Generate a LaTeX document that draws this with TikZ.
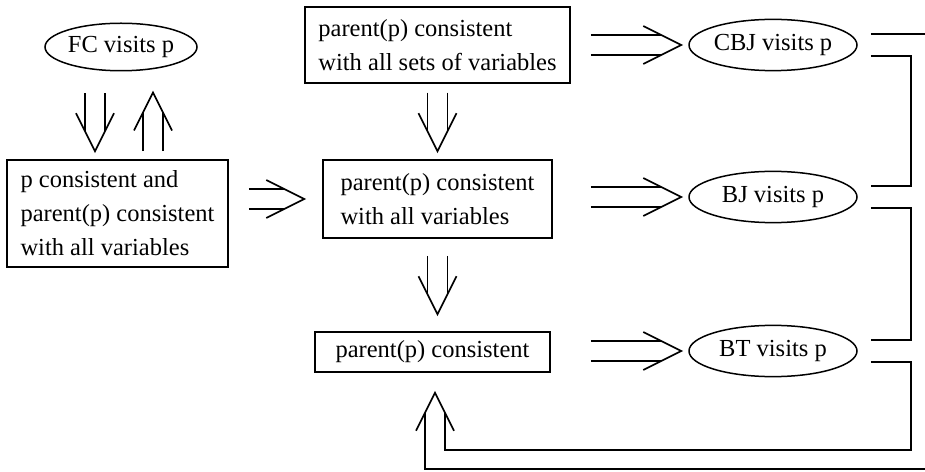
\documentclass[tikz,border=0pt]{standalone}
\usepackage{fontspec}
\setmainfont{Liberation Serif}
\usetikzlibrary{calc,shapes.geometric}
% double-line implication arrow with an open V head: #1 start, #2 tip
\newcommand\dimp[2]{%
  \coordinate (dS) at (#1);
  \coordinate (dT) at (#2);
  \coordinate (dE) at ($(dT)!8pt!(dS)$);
  \coordinate (dB) at ($(dT)!15.2pt!(dS)$);
  \draw[conn] ($(dS)!4pt!90:(dT)$) -- ($(dE)!4pt!90:(dT)$);
  \draw[conn] ($(dS)!4pt!-90:(dT)$) -- ($(dE)!4pt!-90:(dT)$);
  \draw[conn] ($(dB)!7.6pt!90:(dT)$) -- (dT) -- ($(dB)!7.6pt!-90:(dT)$);
}
\begin{document}
\begin{tikzpicture}[x=0.4pt,y=-0.4pt,
  every node/.style={font=\fontsize{9.8}{13.6}\selectfont},
  box/.style={draw, line width=0.6pt, align=left, inner sep=0pt},
  oval/.style={draw, ellipse, line width=0.6pt, inner sep=0pt},
  conn/.style={line width=0.7pt}]
\useasboundingbox (0,0) rectangle (925,472);

% nodes
\node[oval, minimum width=60.8pt, minimum height=19pt] (fc) at (121,47) {FC visits p};
\node[box, minimum width=88.4pt, minimum height=42.8pt] (lbox) at (117.5,213.5)
  {p consistent and\\ parent(p) consistent\\ with all variables};
\node[box, minimum width=106pt, minimum height=30.4pt] (tbox) at (437.5,45)
  {parent(p) consistent\\ with all sets of variables};
\node[box, minimum width=91.6pt, minimum height=31.2pt] (mbox) at (437.5,199)
  {parent(p) consistent\\ with all variables};
\node[box, minimum width=94pt, minimum height=16pt] (bbox) at (432.5,352)
  {parent(p) consistent};
\node[oval, minimum width=67.2pt, minimum height=20.5pt] (cbj) at (773,45) {CBJ visits p};
\node[oval, minimum width=67.2pt, minimum height=20.5pt] (bj) at (773,197) {BJ visits p};
\node[oval, minimum width=67.2pt, minimum height=20.5pt] (bt) at (773,351) {BT visits p};

% implication arrows
\dimp{$(fc.south)+(-26,22)$}{$(lbox.north)+(-22.5,-8)$}
\dimp{$(lbox.north)+(35.5,-8)$}{$(fc.south)+(32,21)$}
\dimp{$(lbox.east)+(20,-14.5)$}{$(mbox.west)+(-18,0)$}
\dimp{$(tbox.east)+(20,0)$}{$(cbj.west)+(-7,0)$}
\dimp{$(tbox.south)+(0,9)$}{$(mbox.north)+(0,-8)$}
\dimp{$(mbox.east)+(38,-2)$}{$(bj.west)+(-7,0)$}
\dimp{$(mbox.south)+(0,17)$}{$(bbox.north)+(5,-17)$}
\dimp{$(bbox.east)+(40,-1)$}{$(bt.west)+(-7,0)$}

% right-hand brackets
\draw[conn] ($(cbj.east)+(13,11)$) -- ++(40,0) |- ($(bj.east)+(13,-11)$);
\draw[conn] ($(bj.east)+(13,11)$) -- ++(40,0) |- ($(bt.east)+(13,-11)$);
\draw[conn] ($(bt.east)+(13,11)$) -- ++(40,0) |- ($(bbox.south)+(12.5,77)$)
  -- ($(bbox.south)+(12.5,40)$);
\draw[conn] ($(cbj.east)+(13,-11)$) -- ++(62,0) |- ($(bbox.south)+(-7.5,96)$)
  -- ($(bbox.south)+(-7.5,40)$);
\draw[conn] ($(bbox.south)+(-16.5,58)$) -- ($(bbox.south)+(2.5,20)$)
  -- ($(bbox.south)+(21.5,58)$);
\end{tikzpicture}
\end{document}
